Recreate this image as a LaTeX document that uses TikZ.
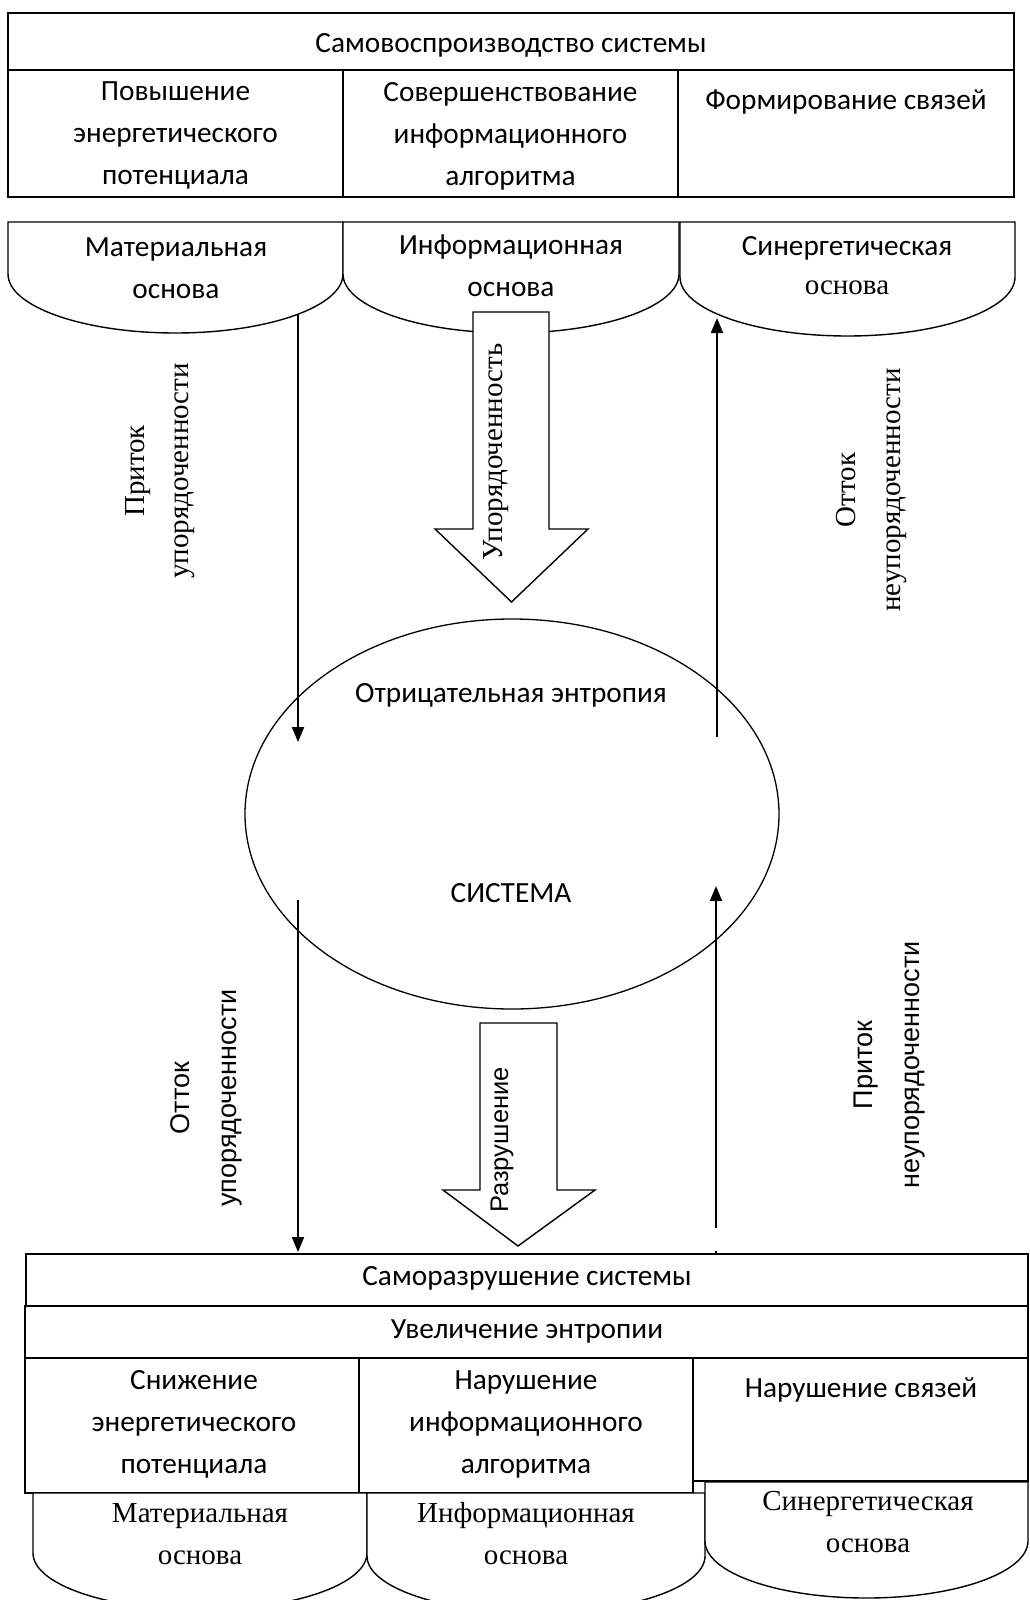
\documentclass[tikz,border=0pt]{standalone}
\usepackage{fontspec}
\setmainfont{Liberation Serif}
\newfontfamily\calfont{Carlito}
\newfontfamily\arifont{Liberation Sans}
\usetikzlibrary{arrows.meta,shapes.geometric}
\begin{document}
\begin{tikzpicture}[x=1pt,y=-1pt,
  tbl/.style={line width=1.8pt},
  shp/.style={line width=1.4pt, fill=white},
  conn/.style={line width=2pt, -{Triangle[length=15pt,width=12pt]}},
  blockarrow/.style={line width=1.4pt, fill=white, line join=miter},
  caltext/.style={font=\calfont\fontsize{29.3}{42}\selectfont, inner sep=0pt, align=center},
  sertext/.style={font=\fontsize{29}{42}\selectfont, inner sep=0pt, align=center},
  aritext/.style={font=\arifont\fontsize{27}{47}\selectfont, inner sep=0pt, align=center}]
\useasboundingbox (0,0) rectangle (1030,1600);
\fill[white] (0,0) rectangle (1030,1600);

% ---------- top table ----------
\draw[tbl] (8,13) rectangle (1014,197);
\draw[tbl] (8,70) -- (1014,70);
\draw[tbl] (343,70) -- (343,197);
\draw[tbl] (678,70) -- (678,197);
\node[caltext] (t0) at (511,45) {Самовоспроизводство системы};
\node[caltext] (t1) at (175.5,136) {Повышение\\энергетического\\потенциала};
\node[caltext] (t2) at (510.5,136) {Совершенствование\\информационного\\алгоритма};
\node[caltext] (t3) at (846,102) {Формирование связей};

% ---------- top shapes ----------
\draw[shp] (8,222) -- (343,222) -- (343,274) .. controls (343,306.5) and (268,333) .. (175.5,333) .. controls (83,333) and (8,306.5) .. (8,274) -- cycle;
\draw[shp] (343,222) -- (679,222) -- (679,274) .. controls (679,306.5) and (603.8,333) .. (511,333) .. controls (418.2,333) and (343,306.5) .. (343,274) -- cycle;
\draw[shp] (680,222) -- (1015,222) -- (1015,277) .. controls (1015,309.5) and (940,336) .. (847.5,336) .. controls (755,336) and (680,309.5) .. (680,277) -- cycle;
\node[caltext] (s1) at (176,268) {Материальная\\основа};
\node[caltext] (s2) at (511,266) {Информационная\\основа};
\node[caltext] (s3a) at (847,248) {Синергетическая};
\node[sertext] (s3b) at (847,288) {основа};

% ---------- system ellipse ----------
\node[draw, line width=1.3pt, ellipse, minimum width=534pt, minimum height=390pt, inner sep=0pt] (sys) at (512,814) {};
\node[caltext] (neg) at (511,695) {Отрицательная энтропия};
\node[caltext] (sysname) at (511,893) {СИСТЕМА};

% ---------- block arrows ----------
\draw[blockarrow] (473,312) -- (549,312) -- (549,529) -- (588,529) -- (511.5,602) -- (435,529) -- (473,529) -- cycle;
\node[sertext, rotate=90] (ord) at (496,452) {Упорядоченность};
\draw[blockarrow] (480,1023) -- (557,1023) -- (557,1190) -- (595,1190) -- (518,1246) -- (443,1190) -- (480,1190) -- cycle;
\node[aritext, rotate=90, font=\arifont\fontsize{25.5}{46}\selectfont] (destr) at (502,1140) {Разрушение};

% ---------- connectors ----------
\coordinate (a1s) at (298,315);
\coordinate (a1e) at (298,742);
\coordinate (a2s) at (717,737);
\coordinate (a2e) at (717,318);
\coordinate (a3s) at (298,900);
\coordinate (a3e) at (298,1252);
\coordinate (a4s) at (716,1228);
\coordinate (a4e) at (716,886);
\coordinate (tk1) at (716,1251);
\coordinate (tk2) at (716,1255);
\draw[conn] (a1s) -- (a1e);
\draw[conn] (a2s) -- (a2e);
\draw[conn] (a3s) -- (a3e);
\draw[conn] (a4s) -- (a4e);
\draw[line width=1.5pt] (tk1) -- (tk2);

\node[sertext, rotate=90, font=\fontsize{29}{44}\selectfont] (l1) at (160,471) {Приток\\упорядоченности};
\node[sertext, rotate=90, font=\fontsize{29}{45}\selectfont] (l2) at (872,490) {Отток\\неупорядоченности};
\node[aritext, rotate=90] (l3) at (206,1098) {Отток\\упорядоченности};
\node[aritext, rotate=90] (l4) at (890,1065) {Приток\\неупорядоченности};

% ---------- bottom table ----------
\draw[tbl] (26,1254) rectangle (1028,1306);
\draw[tbl] (25,1306) rectangle (1028,1358);
\draw[tbl] (25,1358) rectangle (693,1493);
\draw[tbl] (359,1358) -- (359,1493);
\draw[tbl] (693,1358) rectangle (1028,1481);
\node[caltext] (b0) at (527,1278) {Саморазрушение системы};
\node[caltext] (b1) at (527,1331) {Увеличение энтропии};
\node[caltext] (b2) at (194,1424) {Снижение\\энергетического\\потенциала};
\node[caltext] (b3) at (526,1424) {Нарушение\\информационного\\алгоритма};
\node[caltext] (b4) at (861,1390) {Нарушение связей};

% ---------- bottom shapes ----------
\begin{scope}
\clip (0,0) rectangle (1030,1600);
\draw[shp] (33,1493) -- (367,1493) -- (367,1553) .. controls (367,1584.5) and (292.2,1610) .. (200,1610) .. controls (107.8,1610) and (33,1584.5) .. (33,1553) -- cycle;
\draw[shp] (367,1493) -- (705,1493) -- (705,1556) .. controls (705,1587.5) and (629.3,1613) .. (536,1613) .. controls (442.7,1613) and (367,1587.5) .. (367,1556) -- cycle;
\draw[shp] (705,1482) -- (1028,1482) -- (1028,1541) .. controls (1028,1572.5) and (955.7,1598) .. (866.5,1598) .. controls (777.3,1598) and (705,1572.5) .. (705,1541) -- cycle;
\end{scope}
\node[sertext] (m1) at (200,1534) {Материальная\\основа};
\node[sertext] (m2) at (526,1534) {Информационная\\основа};
\node[sertext] (m3) at (868,1522) {Синергетическая\\основа};
\end{tikzpicture}
\end{document}
